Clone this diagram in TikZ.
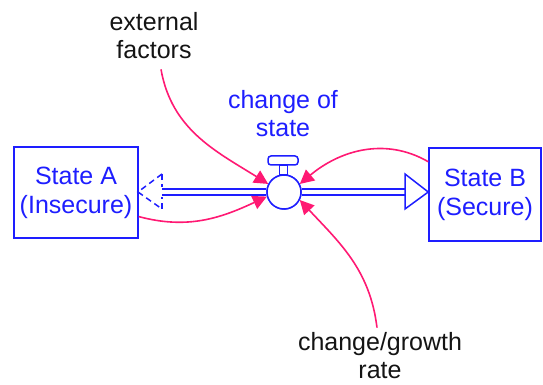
\documentclass[tikz,border=0pt]{standalone}
\usepackage{fontspec}
\setmainfont{Liberation Sans}
\usetikzlibrary{arrows.meta}
\definecolor{sfblue}{RGB}{30,30,255}
\definecolor{sfpink}{RGB}{255,25,115}
\definecolor{sftext}{RGB}{20,20,20}
\begin{document}
\begin{tikzpicture}[x=1pt,y=1pt,
  stock/.style={draw=sfblue,line width=1.5pt,fill=white,inner sep=0pt,align=center,text=sfblue,font=\fontsize{25}{29}\selectfont},
  lbl/.style={inner sep=0pt,align=center,font=\fontsize{25}{28}\selectfont},
  pipe/.style={draw=sfblue,line width=1.5pt,double=white,double distance=4.5pt},
  link/.style={draw=sfpink,line width=1.6pt,-{Triangle[length=14pt,width=14pt]}},
  flowhead/.style={draw=sfblue,line width=1.5pt,fill=white,line join=miter}]
\useasboundingbox (0,0) rectangle (543,385);
% stocks
\node[stock,minimum width=124pt,minimum height=91pt] (A) at (76,192.5) {State A\\(Insecure)};
\node[stock,minimum width=112pt,minimum height=93pt] (B) at (485,190.5) {State B\\(Secure)};
% pipe ends
\coordinate (lb) at (162,193);
\coordinate (rb) at (405,193);
\coordinate (lt) at (138,193);
% valve
\node[draw=sfblue,line width=1.5pt,fill=white,circle,minimum size=34pt,inner sep=0pt] (valve) at (284,193) {};
\draw[pipe] (lb) -- (valve.west);
\draw[pipe] (valve.east) -- (rb);
\node[draw=sfblue,line width=1.5pt,fill=white,circle,minimum size=34pt,inner sep=0pt] at (valve) {};
\draw[sfblue,line width=1.5pt,fill=white] (279.5,210) rectangle (287.5,220);
\draw[sfblue,line width=1.5pt,fill=white,rounded corners=3pt] (268,220) rectangle (298,229);
% flow heads
\draw[flowhead] ([yshift=18pt]rb) -- (B.west |- rb) -- ([yshift=-17pt]rb) -- cycle;
\draw[flowhead,dashed,dash pattern=on 6pt off 4pt,fill=none] ([yshift=18pt]lb) -- (lt) -- ([yshift=-17pt]lb);
\draw[sfblue,line width=1.5pt,dashed,dash pattern=on 6pt off 4pt] ([yshift=18pt]lb) -- ([yshift=5pt]lb);
\draw[sfblue,line width=1.5pt,dashed,dash pattern=on 6pt off 4pt] ([yshift=-17pt]lb) -- ([yshift=-5pt]lb);
% labels
\node[lbl,text=sftext] (ext) at (154,349) {external\\factors};
\node[lbl,text=sfblue] (chg) at (283,271) {change of\\state};
\node[lbl,text=sftext] (gr) at (380,29) {change/growth\\rate};
% links
\draw[link] ([xshift=7pt,yshift=-10pt]ext.south) to[out=-80,in=148] (valve.153);
\draw[link] (A.-21.6) to[out=-15,in=205] (valve.195);
\draw[link] (B.150) to[out=150,in=40] (valve.27);
\draw[link] ([xshift=-3pt,yshift=5pt]gr.north) to[out=97,in=-47] (valve.-27);
\end{tikzpicture}
\end{document}
